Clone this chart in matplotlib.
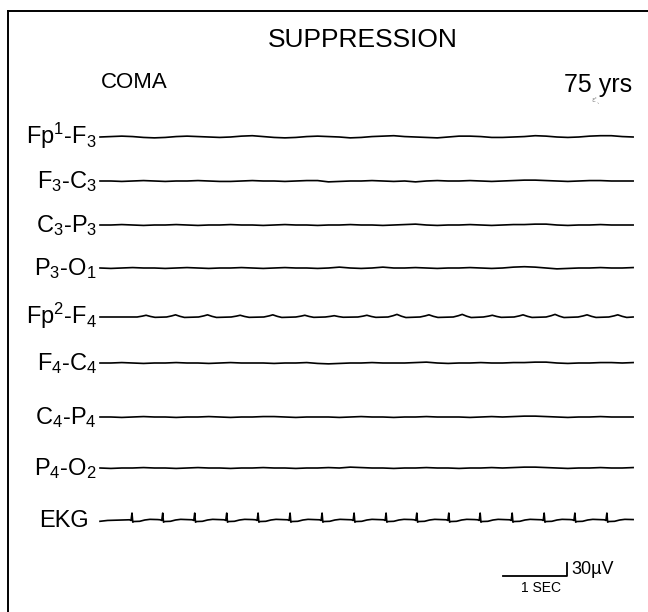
import numpy as np
import matplotlib
matplotlib.use("Agg")
import matplotlib.pyplot as plt
from matplotlib.lines import Line2D

plt.rcParams["font.family"] = ["Liberation Sans", "DejaVu Sans"]
plt.rcParams["mathtext.fontset"] = "custom"
plt.rcParams["mathtext.rm"] = "Liberation Sans"
plt.rcParams["mathtext.it"] = "Liberation Sans"

# ---- data (microvolts vs seconds) ----
CHANNELS = ["Fp$^1$-F$_3$", "F$_3$-C$_3$", "C$_3$-P$_3$", "P$_3$-O$_1$",
            "Fp$^2$-F$_4$", "F$_4$-C$_4$", "C$_4$-P$_4$", "P$_4$-O$_2$", "EKG"]
SPAN_SEC = 8.33

FP1_F3 = [0, 1, 2, 1, -1, -2, -1, 1, 2, 1, 0, -1, 0, 2, 3, 1, -1, -2, -1, 1,
          2, 1, 0, -2, -1, 1, 2, 3, 1, 0, -1, -2, 0, 2, 2, 1, -1, -1, 0, 1,
          3, 2, 0, -1, 0, 2, 3, 3, 1, 0]
F3_C3 = [0, 0, -1, 0, 1, 0, -1, 0, 0, 1, 0, -1, -1, 0, 1, 0, 0, -1, 0, 1,
         1, -2, -1, 0, 0, 1, 0, -1, 0, -2, 0, 1, 0, 0, 1, 0, -1, 0, 1, 2,
         2, 1, 0, -1, 0, 1, 1, 0, 0, 0]
C3_P3 = [0, 0, 1, 0, -1, 0, 0, 1, 0, -1, 0, 0, 1, 0, 0, -1, 0, 1, 0, 0,
         -1, 0, 0, 1, 0, 0, -1, 0, 1, 2, 0, -1, 0, 0, 1, 0, -1, 0, 1, 1,
         2, 2, 0, -1, 0, 0, 1, 0, 0, 0]
P3_O1 = [0, -1, 0, 1, 0, 0, -1, 0, 1, 0, -1, 0, 0, 1, 0, -1, 0, 1, 0, 0,
         -1, 0, 2, 0, -1, 0, 2, 0, 0, 1, 0, -1, 0, 0, 1, 0, -1, 0, 2, 3,
         2, 0, -2, -1, 0, 0, 1, 0, 0, 1]
F4_C4 = [0, 0, 1, 0, -1, 0, 0, 1, 0, 0, -1, 0, 1, 0, 0, 0, -1, 0, 0, 1,
         -1, -2, -1, 0, 0, 1, 0, 0, 0, 1, 2, 0, -1, 0, 0, 1, 0, 0, 1, 1,
         2, 2, 0, -1, 0, 0, 1, 1, 0, 1]
C4_P4 = [0, 0, -1, 0, 1, 0, 0, -1, 0, 0, 1, 0, -1, 0, 0, 1, 1, 0, -1, 0,
         0, 0, -1, 0, 1, 0, 0, -1, 0, 0, 1, 0, 0, 0, -1, 0, 1, 0, 1, 2,
         2, 1, 0, -1, 0, 0, 1, 0, 0, 0]
P4_O2 = [0, -1, 0, 0, 1, 0, 0, -1, 0, 1, 0, 0, -1, 0, 0, 1, 0, 0, -1, 0,
         0, 1, 0, 2, 1, 0, 0, -1, 0, 0, 1, 0, 0, -1, 0, 0, 1, 0, 1, 2,
         2, 1, 0, -1, 0, 0, 1, 0, 0, 1]

# Fp2-F4 carries small pulse humps
FP2_HUMP_T = [0.72, 1.18, 1.68, 2.19, 2.70, 3.20, 3.66, 4.17, 4.64, 5.14,
              5.66, 6.13, 6.61, 7.11, 7.61, 8.09]
FP2_HUMP_UV = [4, 5, 5, 4, 5, 4, 3, 4, 6, 5, 6, 4, 5, 6, 5, 5]
HUMP_SHAPE_T = [-0.14, -0.06, 0.0, 0.07, 0.14]
HUMP_SHAPE_K = [0.0, 0.5, 1.0, 0.3, -0.2]

# EKG: R-wave times and one beat's shape
EKG_BEATS = [0.50, 0.98, 1.48, 1.98, 2.47, 2.97, 3.47, 3.97, 4.47, 4.95,
             5.45, 5.94, 6.44, 6.94, 7.42, 7.92]
EKG_SHAPE_T = [-0.04, -0.015, 0.0, 0.012, 0.03, 0.12, 0.20, 0.28, 0.40]
EKG_SHAPE_UV = [0.5, -1, 16, -5, -3.5, -3, 0, 1.5, 1]

SCALE_SEC = 1
SCALE_UV = 30

# ---- layout (pixels of a 648x612 page) ----
W, H = 648, 612
PX_PER_SEC = 64.0
PX_PER_UV = 13.0 / 30.0
X0 = 100.0
ROW_Y = [137, 181, 225, 268, 317, 363, 417, 468, 520]
LABEL_RIGHT = [97, 97, 97, 97, 97, 97, 97, 97, 89]


def fx(px):
    return px / W


def fy(py):
    return 1 - py / H


fig = plt.figure(figsize=(W / 100, H / 100), dpi=100)
ax = fig.add_axes([0, 0, 1, 1])
ax.set_xlim(-X0 / PX_PER_SEC, (W - X0) / PX_PER_SEC)
ax.set_ylim(-H / PX_PER_UV, 0)
ax.axis("off")

# page frame
fig.add_artist(Line2D([fx(8), 1], [fy(11), fy(11)], color="black", lw=1.4))
fig.add_artist(Line2D([fx(8), fx(8)], [0, fy(11)], color="black", lw=1.4))

fig.text(fx(363), fy(40), "SUPPRESSION", ha="center", va="center", fontsize=19)
fig.text(fx(134), fy(83), "COMA", ha="center", va="center", fontsize=16)
fig.text(fx(598), fy(85), "75 yrs", ha="center", va="center", fontsize=18)
fig.text(fx(596), fy(101), "\u025b'\u02ce", ha="center", va="center",
         fontsize=5, color="#888888", family="DejaVu Sans")

eeg = [FP1_F3, F3_C3, C3_P3, P3_O1, None, F4_C4, C4_P4, P4_O2]
for i, vals in enumerate(eeg):
    base = -ROW_Y[i] / PX_PER_UV
    if vals is None:
        t = [0.0]
        v = [0.0]
        for ht, hv in zip(FP2_HUMP_T, FP2_HUMP_UV):
            for st, sk in zip(HUMP_SHAPE_T, HUMP_SHAPE_K):
                t.append(ht + st)
                v.append(hv * sk)
        t.append(SPAN_SEC)
        v.append(0.0)
        t, v = np.array(t), np.array(v)
    else:
        t = np.linspace(0, SPAN_SEC, len(vals))
        v = np.array(vals, dtype=float)
    ax.plot(t, base + v, color="black", lw=1.2, solid_joinstyle="round")

# EKG
ekg_t = [0.0, 0.12]
ekg_v = [-3.0, -1.0]
for b in EKG_BEATS:
    for st, sv in zip(EKG_SHAPE_T, EKG_SHAPE_UV):
        ekg_t.append(b + st)
        ekg_v.append(sv)
ekg_t.append(SPAN_SEC)
ekg_v.append(1.0)
ax.plot(ekg_t, -ROW_Y[8] / PX_PER_UV + np.array(ekg_v), color="black", lw=1.2)

for i, name in enumerate(CHANNELS):
    fig.text(fx(LABEL_RIGHT[i]), fy(ROW_Y[i] + 7), name, ha="right",
             va="baseline", fontsize=17)

# calibration bar
bx = (567 - X0) / PX_PER_SEC
by = -576 / PX_PER_UV
ax.plot([bx - SCALE_SEC, bx, bx], [by, by, by + SCALE_UV], color="black", lw=1.3)
fig.text(fx(571), fy(570), "30\u00b5V", ha="left", va="center", fontsize=13)
fig.text(fx(541), fy(588), "1 SEC", ha="center", va="center", fontsize=10)

fig.savefig("out.png", dpi=100)
